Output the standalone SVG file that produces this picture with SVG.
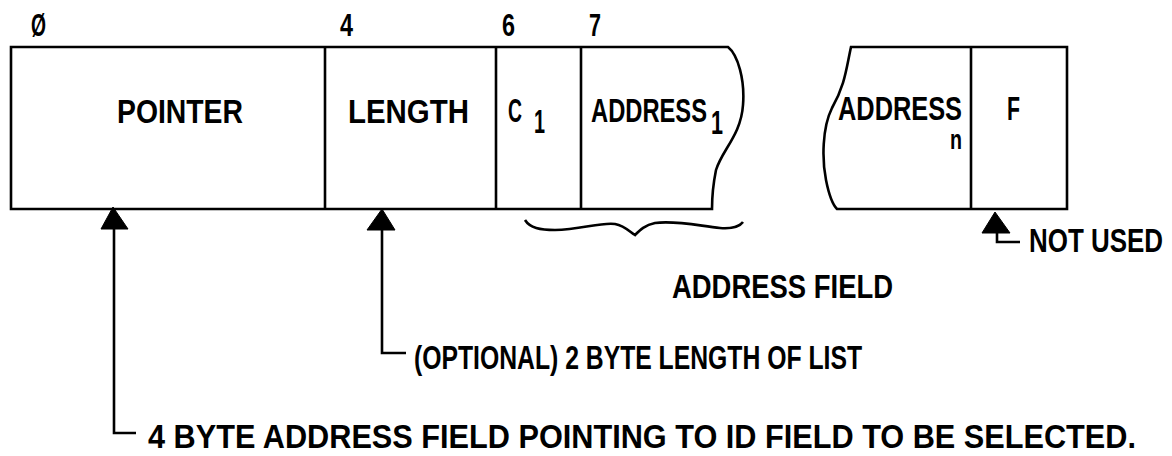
<svg xmlns="http://www.w3.org/2000/svg" width="1172" height="456" viewBox="0 0 1172 456">
<style>
.t{font-family:"Liberation Sans Narrow","Liberation Sans",Arial,sans-serif;font-weight:bold;font-size:33px;fill:#000}
.n{font-size:31px}
.ln{fill:none;stroke:#000;stroke-width:2.6;stroke-linejoin:miter}
.ah{fill:#000;stroke:#000;stroke-width:1;stroke-linejoin:round}
</style>
<rect width="1172" height="456" fill="#fff"/>
<g id="offsets">
<text class="t n" x="31" y="36" textLength="15" lengthAdjust="spacingAndGlyphs">Ø</text>
<text class="t n" x="340" y="36" textLength="13" lengthAdjust="spacingAndGlyphs">4</text>
<text class="t n" x="502" y="36" textLength="13" lengthAdjust="spacingAndGlyphs">6</text>
<text class="t n" x="589" y="36" textLength="12" lengthAdjust="spacingAndGlyphs">7</text>
</g>
<g id="record-left">
<path class="ln" d="M728,47 H11 V209 H712 C712,200 713,185 716,170 C722,150 741,135 743,105 C745,80 738,55 728,47 Z"/>
<line class="ln" x1="325" y1="47" x2="325" y2="209"/>
<line class="ln" x1="496" y1="47" x2="496" y2="209"/>
<line class="ln" x1="581" y1="47" x2="581" y2="209"/>
</g>
<g id="pointer"><text class="t" x="117" y="123" textLength="126" lengthAdjust="spacingAndGlyphs">POINTER</text></g>
<g id="length"><text class="t" x="348" y="123" textLength="121" lengthAdjust="spacingAndGlyphs">LENGTH</text></g>
<g id="c1"><text class="t" x="508" y="122" textLength="14" lengthAdjust="spacingAndGlyphs">C</text><text class="t" x="534" y="133" textLength="11" lengthAdjust="spacingAndGlyphs">1</text></g>
<g id="address1"><text class="t" x="591" y="122" textLength="116" lengthAdjust="spacingAndGlyphs">ADDRESS</text><text class="t" x="711" y="134" textLength="12" lengthAdjust="spacingAndGlyphs">1</text></g>
<g id="record-right">
<path class="ln" d="M851,47 H1067 V209 H837 C833,205 829,195 826,180 C822,160 822,128 832,108 C845,85 846,70 851,47 Z"/>
<line class="ln" x1="971" y1="47" x2="971" y2="209"/>
</g>
<g id="addressn"><text class="t" x="838" y="120" textLength="124" lengthAdjust="spacingAndGlyphs">ADDRESS</text><text class="t" x="950" y="149" textLength="12" lengthAdjust="spacingAndGlyphs" style="font-size:28px">n</text></g>
<g id="f"><text class="t" x="1007" y="120" textLength="13" lengthAdjust="spacingAndGlyphs">F</text></g>
<g id="address-field">
<path class="ln" d="M525,220 C530,228 540,230 555,230 C580,230 600,222 615,224 C625,226 630,232 635,235 C640,230 645,225 655,223 C675,220 700,226 720,228 C732,229 740,226 743,222"/>
<text class="t" x="672" y="298" textLength="221" lengthAdjust="spacingAndGlyphs">ADDRESS FIELD</text>
</g>
<g id="connectors">
<polygon class="ah" points="113,207 101,229 128,229"/>
<polyline class="ln" points="114,229 114,433 136,433"/>
<polygon class="ah" points="382,209 367,230 395,230"/>
<polyline class="ln" points="382,230 382,353 406,353"/>
<polygon class="ah" points="995,212 982,233 1010,233"/>
<polyline class="ln" points="997,233 997,242 1020,242"/>
</g>
<g id="not-used"><text class="t" x="1029" y="252" textLength="134" lengthAdjust="spacingAndGlyphs">NOT USED</text></g>
<g id="optional"><text class="t" x="414" y="369" textLength="448" lengthAdjust="spacingAndGlyphs">(OPTIONAL) 2 BYTE LENGTH OF LIST</text></g>
<g id="pointer-note"><text class="t" x="148" y="448" textLength="988" lengthAdjust="spacingAndGlyphs">4 BYTE ADDRESS FIELD POINTING TO ID FIELD TO BE SELECTED.</text></g>
</svg>
